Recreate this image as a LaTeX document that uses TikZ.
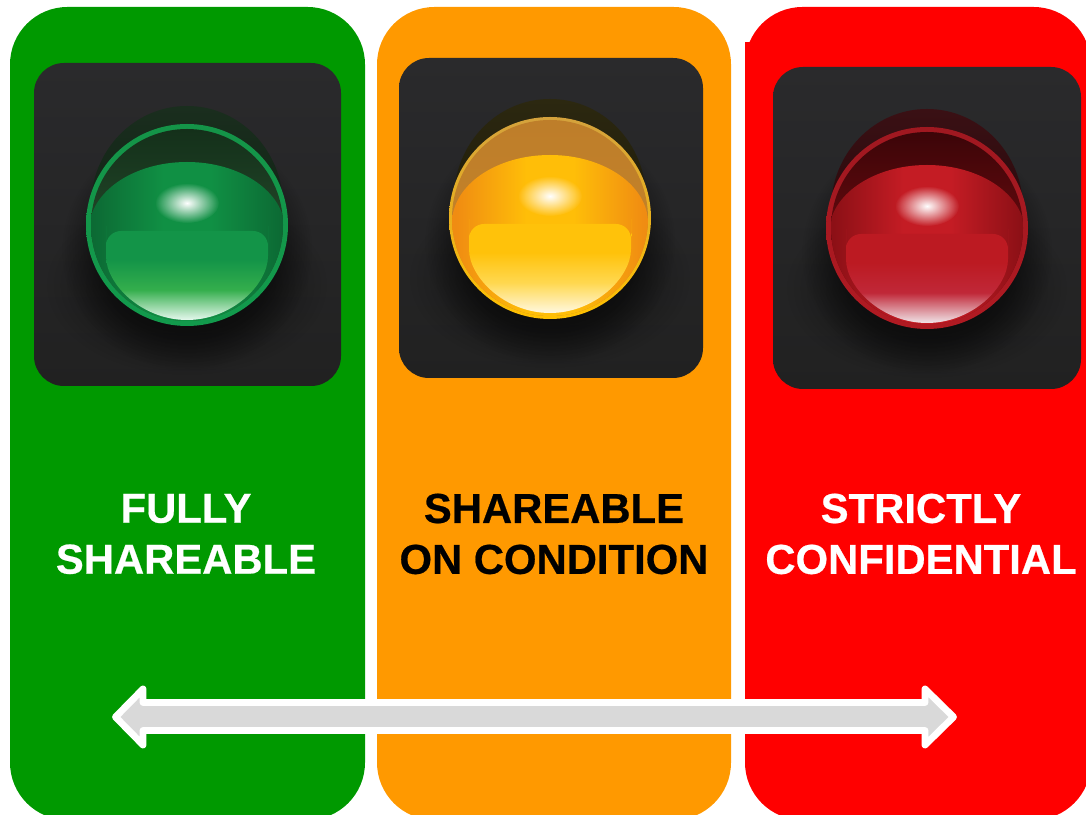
\documentclass[tikz,border=0pt]{standalone}
\usepackage{fontspec}
\setmainfont[BoldFeatures={FakeBold=0.5}]{Liberation Sans}
\usetikzlibrary{fadings}
\tikzfading[name=softspot,inner color=transparent!0,outer color=transparent!100]
\tikzfading[name=softglow,inner color=transparent!0,middle color=transparent!45,outer color=transparent!100]
\pgfdeclareradialshading{rimshade}{\pgfpointorigin}{color(0bp)=(pgftransparent!0); color(18bp)=(pgftransparent!0); color(25bp)=(pgftransparent!100); color(50bp)=(pgftransparent!100)}
\pgfdeclarefading{rimfade}{\pgfuseshading{rimshade}}
\definecolor{colgreen}{RGB}{0,153,0}
\definecolor{colorange}{RGB}{255,153,0}
\definecolor{colred}{RGB}{255,0,0}
\definecolor{paneltop}{HTML}{2A2A2C}
\definecolor{panelbot}{HTML}{212121}
\definecolor{arrowgrey}{HTML}{D9D9D9}
\pgfdeclareverticalshading[lensB,lensM,lensT]{lensshade}{100bp}{%
  color(0bp)=(lensB); color(25bp)=(lensB); color(42bp)=(lensM); color(59bp)=(lensT); color(100bp)=(lensT)}
\pgfdeclarehorizontalshading[sphC,sphE]{sphereshade}{100bp}{%
  color(0bp)=(sphE); color(26bp)=(sphE); color(44bp)=(sphC); color(56bp)=(sphC); color(74bp)=(sphE); color(100bp)=(sphE)}
\tikzset{
  x=0.02cm,y=0.02cm,
  column/.style={rounded corners=1.15cm},
  panel/.style={rounded corners=0.6cm,top color=paneltop,bottom color=panelbot},
  label/.style={font=\fontsize{23.8}{29}\selectfont\bfseries,align=center,inner sep=0pt},
}
% colours: ringT ringB domeT domeB upT upB sphC sphE lensT lensM lensB ; #1 x, #2 y, #3 ring width
\newcommand{\lamp}[3]{%
  \begin{scope}[shift={(#1,#2)}]
    \fill[black,path fading=softspot,fill opacity=.6] (0,-60) ellipse [x radius=140,y radius=90];
    \fill[black,path fading=rimfade,fill opacity=.4] (0,-25) ellipse [x radius=125,y radius=120];
    \shade[top color=domeT,bottom color=domeB] (0,19) ellipse [x radius=96,y radius=100];
    \shade[top color=ringT,bottom color=ringB] (0,0) circle [radius=101];
    \shade[top color=upT,bottom color=upB] (0,0) circle [radius={101-#3}];
    \begin{scope}
      \clip (0,0) circle [radius={101-#3}];
      \shade[shading=sphereshade]
        (-98,-5) arc [start angle=180,end angle=0,x radius=98,y radius=68]
        -- (98,-110) -- (-98,-110) -- cycle;
      \shade[shading=lensshade,rounded corners=0.3cm]
        (-81,-6) -- (81,-6) -- (81,-16)
        arc [start angle=0,end angle=-180,x radius=81,y radius=79] -- cycle;
    \end{scope}
    \fill[white,path fading=softglow] (0,22) ellipse [x radius=32,y radius=20];
  \end{scope}}
\begin{document}
\begin{tikzpicture}
\useasboundingbox (0,0) rectangle (1086,815);
\fill[white] (0,0) rectangle (1086,815);
\begin{scope}
  \clip (0,0) rectangle (1086,815);
  \fill[column,fill=colgreen] (10,-5) rectangle (365,808);
  \fill[column,fill=colorange] (377,-5) rectangle (731,808);
  \fill[column,fill=colred] (745,-5) rectangle (1091,808);
  \fill[colred] (745,745) rectangle (755,773);
\end{scope}
% panels
\shade[panel] (34,429) rectangle (341,752);
\shade[panel] (399,437) rectangle (703,757);
\shade[panel] (773,426) rectangle (1081,748);
% green lamp
\definecolor{ringT}{HTML}{149448}\definecolor{ringB}{HTML}{129A4C}
\definecolor{domeT}{HTML}{1A2E1E}\definecolor{domeB}{HTML}{0A1A0E}
\definecolor{upT}{HTML}{14301A}\definecolor{upB}{HTML}{2F5A36}
\definecolor{sphC}{HTML}{109044}\definecolor{sphE}{HTML}{0C6A34}
\definecolor{lensT}{HTML}{139448}\definecolor{lensM}{HTML}{34AE4C}\definecolor{lensB}{HTML}{E6F8EE}
\lamp{187}{590}{5}
% orange lamp
\definecolor{ringT}{HTML}{D4A23C}\definecolor{ringB}{HTML}{FFC000}
\definecolor{domeT}{HTML}{2C2810}\definecolor{domeB}{HTML}{141206}
\definecolor{upT}{HTML}{BE7E2A}\definecolor{upB}{HTML}{C68428}
\definecolor{sphC}{HTML}{FFBE08}\definecolor{sphE}{HTML}{F08C12}
\definecolor{lensT}{HTML}{FFC20A}\definecolor{lensM}{HTML}{FFD850}\definecolor{lensB}{HTML}{FFF8E0}
\lamp{550}{597}{3}
% red lamp
\definecolor{ringT}{HTML}{A01820}\definecolor{ringB}{HTML}{B01A22}
\definecolor{domeT}{HTML}{3A1014}\definecolor{domeB}{HTML}{1C0406}
\definecolor{upT}{HTML}{3C0508}\definecolor{upB}{HTML}{8A0E14}
\definecolor{sphC}{HTML}{C41C24}\definecolor{sphE}{HTML}{8C1016}
\definecolor{lensT}{HTML}{BC1A22}\definecolor{lensM}{HTML}{C02838}\definecolor{lensB}{HTML}{F0E4E8}
\lamp{927}{587}{5}
% labels
\node[label,text=white] (fully) at (186,281) {FULLY\\SHAREABLE};
\node[label,text=black] (cond) at (554,281) {SHAREABLE\\ON CONDITION};
\node[label,text=white] (strict) at (921,281) {STRICTLY\\CONFIDENTIAL};
% double arrow
\draw[white,fill=arrowgrey,line width=3.9pt,line join=round]
  (115.5,98) -- (143,126) -- (143,112.5) -- (925,112.5) -- (925,126) -- (953.5,98)
  -- (925,70) -- (925,84.5) -- (143,84.5) -- (143,70) -- cycle;
\end{tikzpicture}
\end{document}
